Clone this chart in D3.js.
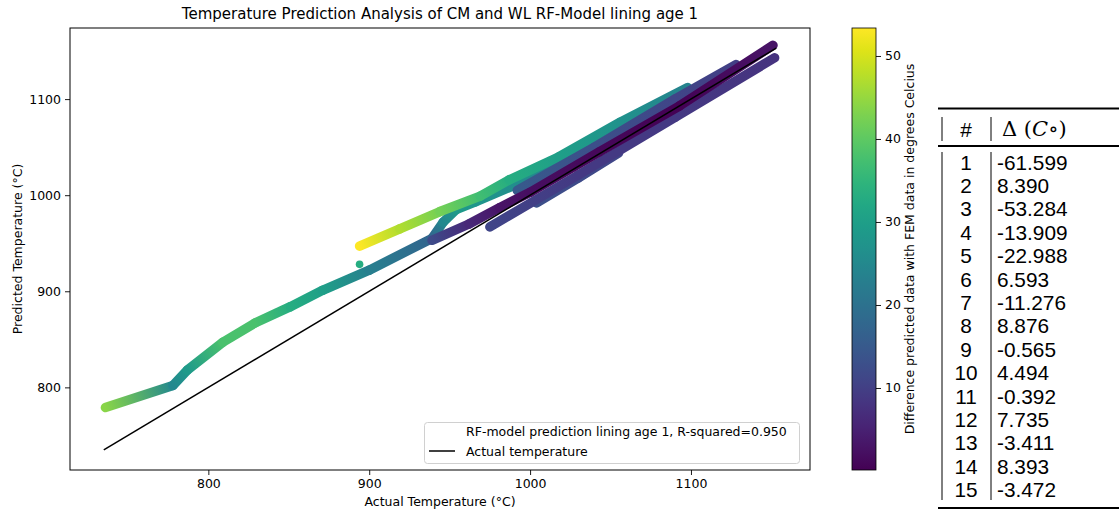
<!DOCTYPE html>
<html>
<head>
<meta charset="utf-8">
<script src="https://cdn.jsdelivr.net/npm/d3@7"></script>
<style>
  body { margin: 0; background: #fff; }
  svg text { font-family: "DejaVu Sans", sans-serif; fill: #000; }
  .tbl text { font-family: "Liberation Sans", Arial, sans-serif; }
</style>
</head>
<body>
<svg id="chart" width="1119" height="513"></svg>
<script>
// Prediction strands: [actual °C, predicted °C, |difference| °C]
const strandLong = [
  [736, 779, 44], [778, 802, 25], [787, 818, 29], [809, 847, 38],
  [829, 867, 38], [851, 884, 33], [871, 901, 30], [900, 922, 23], [939, 955, 17]
];
const strandTeal = [
  [939, 955, 17], [946, 972, 25], [954, 985, 29], [966, 993, 28],
  [994, 1013, 26], [1025, 1037, 24], [1056, 1065, 22], [1099, 1106, 20]
];
const strandYellow = [
  [894, 947, 53.37], [919, 965, 47], [944, 983, 42], [969, 999, 37],
  [987, 1016, 33], [1018, 1040, 30], [1056, 1076, 27], [1098, 1112, 24]
];
const strandBlob = [
  [1004, 992, 13], [1030, 1018, 12], [1055, 1044, 11]
];
const strandBelow = [
  [975, 967, 11], [1030, 1021, 9], [1090, 1081, 9], [1152, 1143, 8]
];
const strandAbove = [
  [992, 1005, 15], [1040, 1050, 13], [1090, 1100, 11], [1128, 1136, 10]
];
const strandOnLine = [
  [939, 953, 12], [962, 970, 6], [981, 987, 3], [1000, 1003, 2],
  [1043, 1045, 1], [1093, 1093, 0.12], [1151, 1156, 3]
];
const singlePoints = [[894, 928, 33]];

// Reference line: actual vs actual
const actualRange = [735, 1153];

const xTicks = [800, 900, 1000, 1100];
const yTicks = [800, 900, 1000, 1100];
const colorTicks = [10, 20, 30, 40, 50];
const diffExtent = [0.12, 53.37];

// Error table
const tableIndex = [1, 2, 3, 4, 5, 6, 7, 8, 9, 10, 11, 12, 13, 14, 15];
const tableDelta = [-61.599, 8.390, -53.284, -13.909, -22.988, 6.593, -11.276,
                    8.876, -0.565, 4.494, -0.392, 7.735, -3.411, 8.393, -3.472];

const titleText = "Temperature Prediction Analysis of CM and WL RF-Model lining age 1";
const legendLabels = ["RF-model prediction lining age 1, R-squared=0.950", "Actual temperature"];

const svg = d3.select("#chart");
const defs = svg.append("defs");

const plotL = 70, plotR = 810, plotT = 28, plotB = 470;
const x = d3.scaleLinear().domain([714, 1174]).range([plotL, plotR]);
const y = d3.scaleLinear().domain([714, 1174]).range([plotB, plotT]);
const color = d3.scaleSequential(d3.interpolateViridis).domain(diffExtent);

const plot = svg.append("g");

// Strands drawn as thick round-capped segments shaded by difference
const strands = [strandLong, strandTeal, strandYellow, strandBlob, strandBelow, strandAbove, strandOnLine];
let gid = 0;
strands.forEach(s => {
  for (let i = 0; i < s.length - 1; i++) {
    const a = s[i], b = s[i + 1];
    const id = "seg" + (gid++);
    const g = defs.append("linearGradient").attr("id", id)
      .attr("gradientUnits", "userSpaceOnUse")
      .attr("x1", x(a[0])).attr("y1", y(a[1]))
      .attr("x2", x(b[0])).attr("y2", y(b[1]));
    g.append("stop").attr("offset", 0).attr("stop-color", color(a[2]));
    g.append("stop").attr("offset", 1).attr("stop-color", color(b[2]));
    plot.append("line")
      .attr("x1", x(a[0])).attr("y1", y(a[1]))
      .attr("x2", x(b[0])).attr("y2", y(b[1]))
      .attr("stroke", `url(#${id})`)
      .attr("stroke-width", 9.5)
      .attr("stroke-linecap", "round");
  }
});

plot.selectAll("circle.pt").data(singlePoints).join("circle")
  .attr("class", "pt")
  .attr("cx", d => x(d[0])).attr("cy", d => y(d[1]))
  .attr("r", 3.8).attr("fill", d => color(d[2]));

// Actual temperature line
plot.append("line")
  .attr("x1", x(actualRange[0])).attr("y1", y(actualRange[0]))
  .attr("x2", x(actualRange[1])).attr("y2", y(actualRange[1]))
  .attr("stroke", "#000").attr("stroke-width", 1.5);

// Axes
const xAxis = d3.axisBottom(x).tickValues(xTicks).tickFormat(d3.format("d")).tickSize(5).tickPadding(4);
const yAxis = d3.axisLeft(y).tickValues(yTicks).tickFormat(d3.format("d")).tickSize(5).tickPadding(4);
const gx = svg.append("g").attr("transform", `translate(0,${plotB})`).call(xAxis);
const gy = svg.append("g").attr("transform", `translate(${plotL},0)`).call(yAxis);
[gx, gy].forEach(g => {
  g.select(".domain").remove();
  g.selectAll("text").style("font-size", "12.5px").attr("fill", "#000");
  g.selectAll("line").attr("stroke", "#000").attr("stroke-width", 0.9);
});

// Frame
svg.append("rect").attr("x", plotL).attr("y", plotT)
  .attr("width", plotR - plotL).attr("height", plotB - plotT)
  .attr("fill", "none").attr("stroke", "#000").attr("stroke-width", 1);

// Title and axis labels
svg.append("text").attr("x", (plotL + plotR) / 2).attr("y", 19)
  .attr("text-anchor", "middle").style("font-size", "15px").text(titleText);
svg.append("text").attr("x", (plotL + plotR) / 2).attr("y", 506)
  .attr("text-anchor", "middle").style("font-size", "12.5px").text("Actual Temperature (°C)");
svg.append("text").attr("transform", `translate(22,${(plotT + plotB) / 2}) rotate(-90)`)
  .attr("text-anchor", "middle").style("font-size", "12.5px").text("Predicted Temperature (°C)");

// Legend
const lg = svg.append("g");
lg.append("rect").attr("x", 424.5).attr("y", 422.5).attr("width", 375).attr("height", 41)
  .attr("rx", 3).attr("fill", "#fff").attr("fill-opacity", 0.8)
  .attr("stroke", "#d0d0d0").attr("stroke-width", 1);
lg.append("text").attr("x", 466).attr("y", 436).style("font-size", "12.5px").text(legendLabels[0]);
lg.append("line").attr("x1", 429).attr("x2", 455).attr("y1", 451).attr("y2", 451)
  .attr("stroke", "#000").attr("stroke-width", 1.5);
lg.append("text").attr("x", 466).attr("y", 456).style("font-size", "12.5px").text(legendLabels[1]);

// Colour bar
const cbL = 852, cbW = 24;
const cb = d3.scaleLinear().domain(diffExtent).range([plotB, plotT]);
const cg = defs.append("linearGradient").attr("id", "cbar")
  .attr("x1", 0).attr("y1", 1).attr("x2", 0).attr("y2", 0);
d3.range(0, 1.0001, 0.05).forEach(t => {
  cg.append("stop").attr("offset", t).attr("stop-color", d3.interpolateViridis(t));
});
svg.append("rect").attr("x", cbL).attr("y", plotT).attr("width", cbW).attr("height", plotB - plotT)
  .attr("fill", "url(#cbar)").attr("stroke", "#000").attr("stroke-width", 0.8);
const cAxis = d3.axisRight(cb).tickValues(colorTicks).tickSize(5).tickPadding(4);
const gc = svg.append("g").attr("transform", `translate(${cbL + cbW},0)`).call(cAxis);
gc.select(".domain").remove();
gc.selectAll("text").style("font-size", "12.5px").attr("fill", "#000");
gc.selectAll("line").attr("stroke", "#000").attr("stroke-width", 0.9);
svg.append("text").attr("transform", `translate(914,${(plotT + plotB) / 2}) rotate(-90)`)
  .attr("text-anchor", "middle").style("font-size", "12.5px")
  .text("Difference predicted data with FEM data in degrees Celcius");

// Error table
const tb = svg.append("g").attr("class", "tbl");
const colA = 966, colB = 997, sepL = 942, sepM = 991;
const rowY0 = 162, rowStep = 23.4;
const cellFont = "20.8px";
tb.append("rect").attr("x", 938).attr("y", 107.5).attr("width", 181).attr("height", 2).attr("fill", "#000");
tb.append("rect").attr("x", 938).attr("y", 145).attr("width", 181).attr("height", 2).attr("fill", "#000");
tb.append("rect").attr("x", 938).attr("y", 507).attr("width", 181).attr("height", 2).attr("fill", "#000");
[sepL, sepM].forEach(sx => {
  tb.append("line").attr("x1", sx).attr("x2", sx).attr("y1", 117).attr("y2", 141)
    .attr("stroke", "#000").attr("stroke-width", 1);
  tb.append("line").attr("x1", sx).attr("x2", sx).attr("y1", 152).attr("y2", 500)
    .attr("stroke", "#000").attr("stroke-width", 1);
});
tb.append("text").attr("x", colA).attr("y", 129).attr("text-anchor", "middle")
  .attr("dominant-baseline", "central").style("font-size", cellFont).text("#");
const hd = tb.append("text").attr("x", 1002).attr("y", 129).attr("dominant-baseline", "central")
  .style("font-family", "'DejaVu Serif', 'Liberation Serif', serif").style("font-size", "21px");
hd.append("tspan").text("Δ (");
hd.append("tspan").style("font-style", "italic").text("C");
hd.append("tspan").text("∘)");
const fmt = d3.format(".3f");
tb.selectAll("text.idx").data(tableIndex).join("text").attr("class", "idx")
  .attr("x", colA).attr("y", (d, i) => rowY0 + i * rowStep)
  .attr("text-anchor", "middle").attr("dominant-baseline", "central")
  .style("font-size", cellFont).text(d => d);
tb.selectAll("text.val").data(tableDelta).join("text").attr("class", "val")
  .attr("x", colB).attr("y", (d, i) => rowY0 + i * rowStep)
  .attr("dominant-baseline", "central")
  .style("font-size", cellFont).text(d => fmt(d).replace("−", "-"));
</script>
</body>
</html>
